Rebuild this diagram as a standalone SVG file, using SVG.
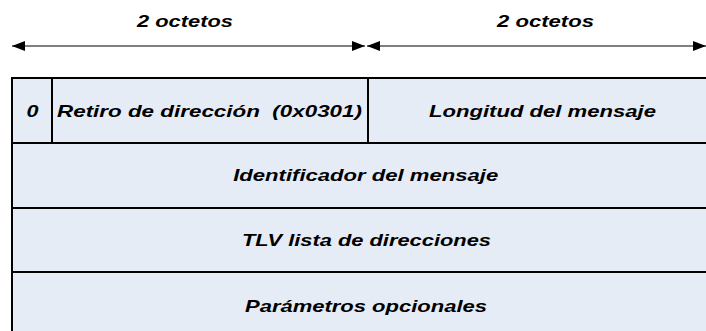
<svg xmlns="http://www.w3.org/2000/svg" width="706" height="331" viewBox="0 0 706 331">
<defs>
<style>
.t{font-family:"Liberation Sans",Arial,sans-serif;font-weight:bold;font-style:italic;font-size:17px;fill:#000;text-anchor:middle}
.c{fill:#E5ECF6;stroke:#000;stroke-width:2}
.d{stroke:#000;stroke-width:1.2;fill:none}
</style>
<marker id="ah" viewBox="0 0 13 10" refX="13" refY="5" markerWidth="13" markerHeight="10" markerUnits="userSpaceOnUse" orient="auto-start-reverse">
<path d="M0,0L13,5L0,10z" fill="#000"/>
</marker>
</defs>
<g id="connectors">
<line class="d" x1="12" y1="46" x2="365" y2="46" marker-start="url(#ah)" marker-end="url(#ah)"/>
<line class="d" x1="367" y1="46" x2="706" y2="46" marker-start="url(#ah)" marker-end="url(#ah)"/>
</g>
<g id="labels">
<text class="t" x="185" y="27" textLength="96" lengthAdjust="spacingAndGlyphs">2 octetos</text>
<text class="t" x="545.5" y="27" textLength="97" lengthAdjust="spacingAndGlyphs">2 octetos</text>
</g>
<g id="f0"><rect class="c" x="12" y="78" width="40" height="65"/><text class="t" x="32.5" y="116.5" textLength="12" lengthAdjust="spacingAndGlyphs">0</text></g>
<g id="f1"><rect class="c" x="52" y="78" width="316" height="65"/><text class="t" x="209.5" y="116.5" textLength="305" lengthAdjust="spacingAndGlyphs" xml:space="preserve">Retiro de dirección  (0x0301)</text></g>
<g id="f2"><rect class="c" x="368" y="78" width="340" height="65"/><text class="t" x="542.5" y="116.5" textLength="227" lengthAdjust="spacingAndGlyphs">Longitud del mensaje</text></g>
<g id="f3"><rect class="c" x="12" y="143" width="696" height="65"/><text class="t" x="365.7" y="181" textLength="265" lengthAdjust="spacingAndGlyphs">Identificador del mensaje</text></g>
<g id="f4"><rect class="c" x="12" y="208" width="696" height="64"/><text class="t" x="366.5" y="246" textLength="249" lengthAdjust="spacingAndGlyphs">TLV lista de direcciones</text></g>
<g id="f5"><rect class="c" x="12" y="272" width="696" height="62"/><text class="t" x="366" y="311.5" textLength="242" lengthAdjust="spacingAndGlyphs">Parámetros opcionales</text></g>
</svg>
